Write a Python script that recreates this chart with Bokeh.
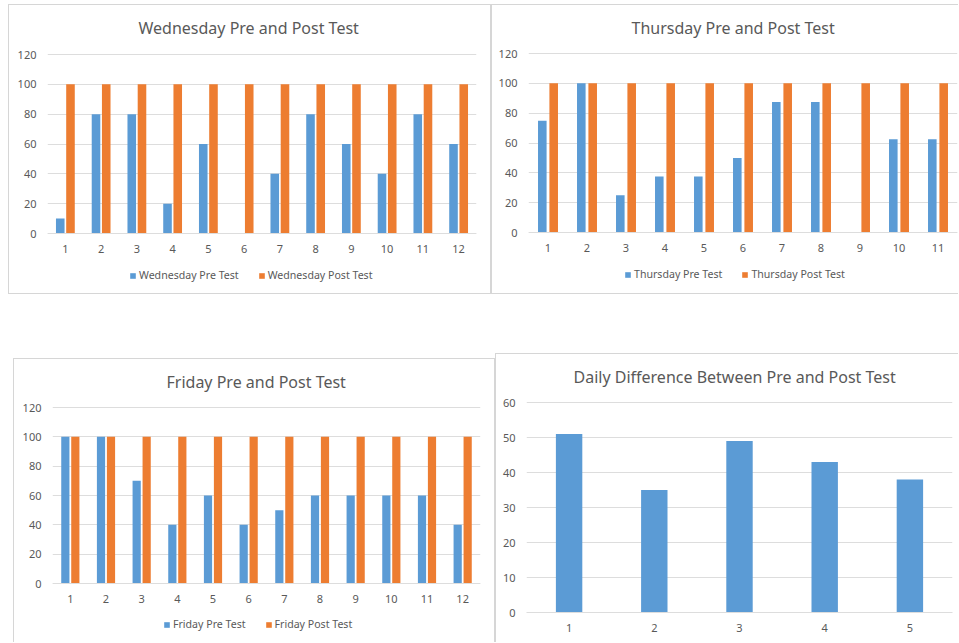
from bokeh.plotting import figure
from bokeh.models import (ColumnDataSource, FactorRange, Range1d, Legend, LegendItem,
                          FixedTicker, Spacer, Label)
from bokeh.transform import dodge
from bokeh.layouts import row, column
from bokeh.embed import file_html
from bokeh.resources import INLINE

# ---------------- data ----------------
wed_students = ["1", "2", "3", "4", "5", "6", "7", "8", "9", "10", "11", "12"]
wed_pre = [10, 80, 80, 20, 60, 0, 40, 80, 60, 40, 80, 60]
wed_post = [100, 100, 100, 100, 100, 100, 100, 100, 100, 100, 100, 100]

thu_students = ["1", "2", "3", "4", "5", "6", "7", "8", "9", "10", "11"]
thu_pre = [75, 100, 25, 37.5, 37.5, 50, 87.5, 87.5, 0, 62.5, 62.5]
thu_post = [100, 100, 100, 100, 100, 100, 100, 100, 100, 100, 100]

fri_students = ["1", "2", "3", "4", "5", "6", "7", "8", "9", "10", "11", "12"]
fri_pre = [100, 100, 70, 40, 60, 40, 50, 60, 60, 60, 60, 40]
fri_post = [100, 100, 100, 100, 100, 100, 100, 100, 100, 100, 100, 100]

diff_days = ["1", "2", "3", "4", "5"]
diff_values = [51, 35, 49, 43, 38]

pct_ticks = [0, 20, 40, 60, 80, 100, 120]
diff_ticks = [0, 10, 20, 30, 40, 50, 60]

FONT = "Noto Sans"
TXT = "#595959"
GRID = "#DDDDDD"
BORDER = "#D6D6D6"
BLUE = "#5B9BD5"
ORANGE = "#ED7D31"


def make_fig(w, h, ml, mr, top_px, bottom_px, mb, factors, y0, ymax, yticks,
             title, tx, shadow):
    # the frame reaches the top of the panel; ymax sits at top_px, y0 at bottom_px
    span = ymax - y0
    y_end = ymax + span * (top_px - 1) / (bottom_px - top_px)
    fb = h - mb
    y_start = y0 - span * (fb - bottom_px) / (bottom_px - top_px)
    p = figure(width=w, height=h, x_range=FactorRange(*factors),
               y_range=Range1d(y_start, y_end), output_backend="svg",
               toolbar_location=None, min_border_left=ml, min_border_right=mr,
               min_border_top=1, min_border_bottom=mb)
    p.border_fill_color = None
    p.background_fill_color = None
    p.outline_line_color = None
    p.styles = {"box-shadow": shadow}
    p.add_layout(Label(x=tx, y=fb - 23, x_units="screen", y_units="screen",
                       text=title, text_font=FONT, text_font_size="16px",
                       text_color=TXT, text_align="left", text_baseline="middle"))
    p.xgrid.grid_line_color = None
    p.ygrid.grid_line_color = GRID
    p.ygrid.ticker = FixedTicker(ticks=yticks)
    for ax in (p.xaxis, p.yaxis):
        ax.major_tick_line_color = None
        ax.minor_tick_line_color = None
        ax.major_tick_out = 0
        ax.major_tick_in = 0
        ax.major_label_text_font = FONT
        ax.major_label_text_font_size = "11px"
        ax.major_label_text_color = TXT
    p.xaxis.axis_line_color = GRID
    p.xaxis.major_label_standoff = 11
    p.yaxis.axis_line_color = None
    p.yaxis.major_label_standoff = 11
    p.yaxis.ticker = FixedTicker(ticks=yticks)
    return p


def pair_panel(w, h, ml, mr, mt, fb, title, tx, shadow, students, pre, post,
               pre_label, post_label, bw, off, lx, lgap):
    extra = h - 1 - fb
    p = make_fig(w, h, ml, mr, mt, fb, 1, students, 0, 120, pct_ticks,
                 title, tx, shadow)
    p.xaxis.fixed_location = 0
    src = ColumnDataSource(dict(x=students, pre=pre, post=post))
    r1 = p.vbar(x=dodge("x", -off, range=p.x_range), top="pre", width=bw,
                source=src, fill_color=BLUE, line_color=None)
    r2 = p.vbar(x=dodge("x", off, range=p.x_range), top="post", width=bw,
                source=src, fill_color=ORANGE, line_color=None)
    leg = Legend(items=[LegendItem(label=pre_label, renderers=[r1]),
                        LegendItem(label=post_label, renderers=[r2])],
                 location=(lx, extra - lgap - 7), orientation="horizontal",
                 glyph_width=7, glyph_height=7, label_height=14, label_width=10,
                 label_standoff=3, spacing=19, padding=0, margin=0,
                 border_line_color=None, background_fill_alpha=0,
                 label_text_font=FONT, label_text_font_size="10.6px",
                 label_text_color=TXT)
    p.add_layout(leg)
    return p


B = BORDER
p1 = pair_panel(483, 290, 39, 15, 50, 229, "Wednesday Pre and Post Test", 91,
                f"inset 1px 1px 0 0 {B}, inset -1px -1px 0 0 {B}",
                wed_students, wed_pre, wed_post,
                "Wednesday Pre Test", "Wednesday Post Test", 0.24, 0.143, 82, 42)
p2 = pair_panel(467, 290, 37, 1, 49, 228, "Thursday Pre and Post Test", 103,
                f"inset 1px 1px 0 0 {B}, inset 0 -1px 0 0 {B}",
                thu_students, thu_pre, thu_post,
                "Thursday Pre Test", "Thursday Post Test", 0.22, 0.146, 96, 42)
p3 = pair_panel(482, 284, 39, 15, 49, 225, "Friday Pre and Post Test", 114,
                f"inset 1px 1px 0 0 {B}, inset -1px 0 0 0 {B}",
                fri_students, fri_pre, fri_post,
                "Friday Pre Test", "Friday Post Test", 0.23, 0.14, 111, 41)

p4 = make_fig(463, 289, 31, 6, 49, 259, 30, diff_days, 0, 60, diff_ticks,
              "Daily Difference Between Pre and Post Test", 47,
              f"inset 1px 1px 0 0 {B}")
src4 = ColumnDataSource(dict(x=diff_days, v=diff_values))
p4.vbar(x="x", top="v", width=0.31, source=src4, fill_color=BLUE, line_color=None)

layout = column(
    Spacer(height=4, width=10),
    row(Spacer(width=8, height=10), p1, p2),
    Spacer(height=59, width=10),
    row(Spacer(width=13, height=10), column(Spacer(height=5, width=10), p3), p4),
)

open("out.html", "w").write(file_html(layout, INLINE))
